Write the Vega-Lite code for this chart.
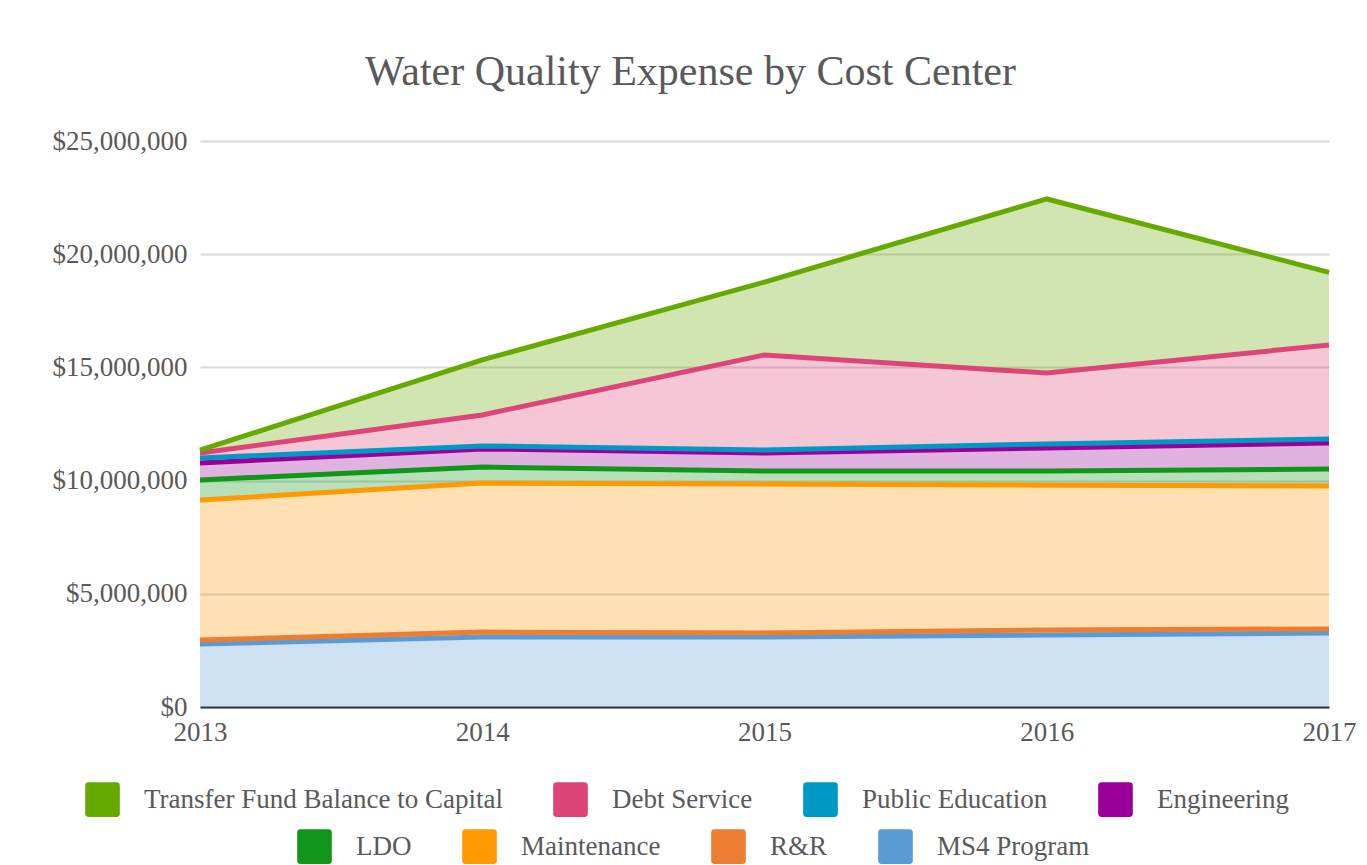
{
  "$schema": "https://vega.github.io/schema/vega-lite/v6.json",
  "width": 1129,
  "height": 566,
  "autosize": {"type": "none"},
  "padding": {"left": 200, "top": 141, "right": 38, "bottom": 158},
  "background": "white",
  "title": {
    "text": "Water Quality Expense by Cost Center",
    "font": "Liberation Serif",
    "fontSize": 42,
    "fontWeight": "normal",
    "color": "#595959",
    "anchor": "middle",
    "frame": "group",
    "dx": -74,
    "offset": 33
  },
  "config": {
    "view": {"stroke": null},
    "axis": {
      "labelFont": "Liberation Serif",
      "labelFontSize": 27,
      "labelColor": "#595959",
      "ticks": false,
      "title": null
    },
    "legend": {
      "orient": "none",
      "direction": "horizontal",
      "title": null,
      "labelFont": "Liberation Serif",
      "labelFontSize": 27,
      "labelColor": "#595959",
      "symbolSize": 1200,
      "symbolType": "M-0.8,-1 L0.8,-1 Q1,-1 1,-0.8 L1,0.8 Q1,1 0.8,1 L-0.8,1 Q-1,1 -1,0.8 L-1,-0.8 Q-1,-1 -0.8,-1 Z",
      "symbolStrokeWidth": 0,
      "symbolOpacity": 1,
      "labelOffset": 24,
      "columnPadding": 50,
      "labelLimit": 500
    }
  },
  "data": {
    "values": [
      {"year": 2013, "series": "MS4 Program", "k": 1, "value": 2780000},
      {"year": 2013, "series": "R&R", "k": 2, "value": 180000},
      {"year": 2013, "series": "Maintenance", "k": 3, "value": 6180000},
      {"year": 2013, "series": "LDO", "k": 4, "value": 890000},
      {"year": 2013, "series": "Engineering", "k": 5, "value": 750000},
      {"year": 2013, "series": "Public Education", "k": 6, "value": 220000},
      {"year": 2013, "series": "Debt Service", "k": 7, "value": 220000},
      {"year": 2013, "series": "Transfer Fund Balance to Capital", "k": 8, "value": 130000},
      {"year": 2014, "series": "MS4 Program", "k": 1, "value": 3090000},
      {"year": 2014, "series": "R&R", "k": 2, "value": 220000},
      {"year": 2014, "series": "Maintenance", "k": 3, "value": 6580000},
      {"year": 2014, "series": "LDO", "k": 4, "value": 710000},
      {"year": 2014, "series": "Engineering", "k": 5, "value": 800000},
      {"year": 2014, "series": "Public Education", "k": 6, "value": 130000},
      {"year": 2014, "series": "Debt Service", "k": 7, "value": 1370000},
      {"year": 2014, "series": "Transfer Fund Balance to Capital", "k": 8, "value": 2430000},
      {"year": 2015, "series": "MS4 Program", "k": 1, "value": 3090000},
      {"year": 2015, "series": "R&R", "k": 2, "value": 180000},
      {"year": 2015, "series": "Maintenance", "k": 3, "value": 6580000},
      {"year": 2015, "series": "LDO", "k": 4, "value": 570000},
      {"year": 2015, "series": "Engineering", "k": 5, "value": 800000},
      {"year": 2015, "series": "Public Education", "k": 6, "value": 130000},
      {"year": 2015, "series": "Debt Service", "k": 7, "value": 4200000},
      {"year": 2015, "series": "Transfer Fund Balance to Capital", "k": 8, "value": 3220000},
      {"year": 2016, "series": "MS4 Program", "k": 1, "value": 3180000},
      {"year": 2016, "series": "R&R", "k": 2, "value": 220000},
      {"year": 2016, "series": "Maintenance", "k": 3, "value": 6400000},
      {"year": 2016, "series": "LDO", "k": 4, "value": 620000},
      {"year": 2016, "series": "Engineering", "k": 5, "value": 1020000},
      {"year": 2016, "series": "Public Education", "k": 6, "value": 180000},
      {"year": 2016, "series": "Debt Service", "k": 7, "value": 3130000},
      {"year": 2016, "series": "Transfer Fund Balance to Capital", "k": 8, "value": 7690000},
      {"year": 2017, "series": "MS4 Program", "k": 1, "value": 3270000},
      {"year": 2017, "series": "R&R", "k": 2, "value": 180000},
      {"year": 2017, "series": "Maintenance", "k": 3, "value": 6310000},
      {"year": 2017, "series": "LDO", "k": 4, "value": 750000},
      {"year": 2017, "series": "Engineering", "k": 5, "value": 1150000},
      {"year": 2017, "series": "Public Education", "k": 6, "value": 180000},
      {"year": 2017, "series": "Debt Service", "k": 7, "value": 4150000},
      {"year": 2017, "series": "Transfer Fund Balance to Capital", "k": 8, "value": 3210000}
    ]
  },
  "transform": [
    {"stack": "value", "groupby": ["year"], "sort": [{"field": "k", "order": "ascending"}], "as": ["v0", "v1"]}
  ],
  "encoding": {
    "x": {
      "field": "year",
      "type": "quantitative",
      "scale": {"domain": [2013, 2017], "nice": false},
      "axis": {
        "values": [2013, 2014, 2015, 2016, 2017],
        "format": "d",
        "grid": false,
        "domainColor": "#2d3438",
        "domainWidth": 2,
        "labelPadding": 12,
        "labelFlush": false
      }
    }
  },
  "layer": [
    {
      "mark": {"type": "area", "fillOpacity": 0.3, "interpolate": "linear"},
      "encoding": {
        "y": {
          "field": "v1",
          "type": "quantitative",
          "scale": {"domain": [0, 25000000], "nice": false},
          "axis": {
            "values": [0, 5000000, 10000000, 15000000, 20000000, 25000000],
            "format": "$,.0f",
            "domain": false,
            "gridColor": "#d9d9d9",
            "gridWidth": 2,
            "labelPadding": 13
          }
        },
        "y2": {"field": "v0"},
        "fill": {
          "field": "series",
          "type": "nominal",
          "scale": {
            "domain": ["Transfer Fund Balance to Capital", "Debt Service", "Public Education", "Engineering", "LDO", "Maintenance", "R&R", "MS4 Program"],
            "range": ["#66aa00", "#dd4477", "#0099c6", "#990099", "#109618", "#ff9900", "#ed7d31", "#5b9bd5"]
          },
          "legend": {
            "values": ["Transfer Fund Balance to Capital", "Debt Service", "Public Education", "Engineering"],
            "legendX": -115,
            "legendY": 641
          }
        }
      }
    },
    {
      "mark": {"type": "line", "strokeWidth": 5, "interpolate": "linear"},
      "encoding": {
        "y": {"field": "v1", "type": "quantitative"},
        "stroke": {
          "field": "series",
          "type": "nominal",
          "scale": {
            "domain": ["Transfer Fund Balance to Capital", "Debt Service", "Public Education", "Engineering", "LDO", "Maintenance", "R&R", "MS4 Program"],
            "range": ["#66aa00", "#dd4477", "#0099c6", "#990099", "#109618", "#ff9900", "#ed7d31", "#5b9bd5"]
          },
          "legend": null
        }
      }
    },
    {
      "mark": {"type": "square", "size": 0, "opacity": 1, "strokeWidth": 0},
      "encoding": {
        "y": {"field": "v1", "type": "quantitative"},
        "color": {
          "field": "series",
          "type": "nominal",
          "scale": {
            "domain": ["LDO", "Maintenance", "R&R", "MS4 Program", "Transfer Fund Balance to Capital", "Debt Service", "Public Education", "Engineering"],
            "range": ["#109618", "#ff9900", "#ed7d31", "#5b9bd5", "#66aa00", "#dd4477", "#0099c6", "#990099"]
          },
          "legend": {
            "values": ["LDO", "Maintenance", "R&R", "MS4 Program"],
            "legendX": 97,
            "legendY": 688
          }
        }
      }
    }
  ]
}
